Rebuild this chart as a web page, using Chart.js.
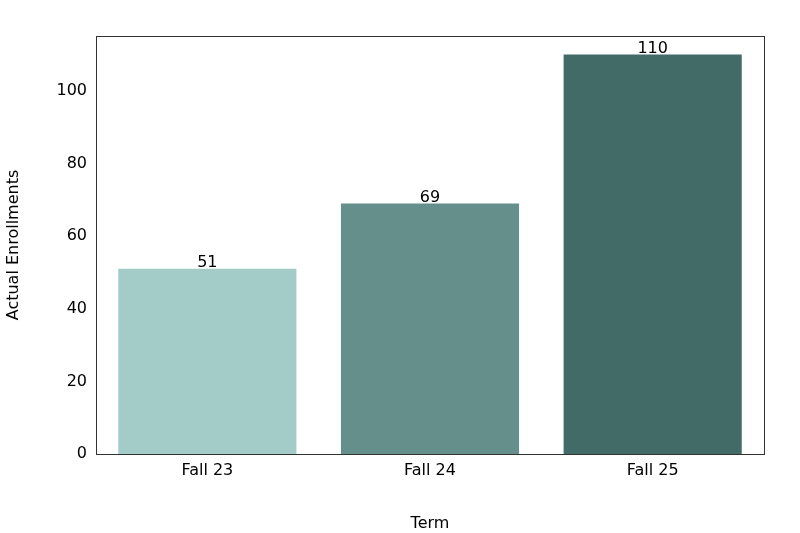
<!DOCTYPE html>
<html><head><meta charset="utf-8">
<script src="https://cdn.jsdelivr.net/npm/chart.js@4"></script>
<style>html,body{margin:0;padding:0;background:#fff}#w{width:800px;height:533px}</style>
</head><body><div id="w"><canvas id="c" width="800" height="533"></canvas></div>
<script>
const categories = ["Fall 23", "Fall 24", "Fall 25"];
const enrollments = [51, 69, 110];
const barColors = ["#a3cbc7", "#648f8b", "#426a66"];
const yTicks = [0, 20, 40, 60, 80, 100];

const frame = {
  id: 'frame',
  afterDraw(chart) {
    const {ctx, chartArea: a} = chart;
    ctx.save();
    ctx.strokeStyle = '#333'; ctx.lineWidth = 1;
    ctx.strokeRect(a.left + 0.5, a.top + 0.5, a.right - a.left, a.bottom - a.top);
    const meta = chart.getDatasetMeta(0);
    ctx.fillStyle = '#000'; ctx.font = '16px "DejaVu Sans"';
    ctx.textAlign = 'center'; ctx.textBaseline = 'bottom';
    meta.data.forEach((b, i) => ctx.fillText(String(enrollments[i]), b.x, b.y + 2));
    ctx.restore();
  }
};

new Chart(document.getElementById('c'), {
  type: 'bar',
  data: { labels: categories, datasets: [{ data: enrollments, backgroundColor: barColors,
    borderColor: barColors.map(c => c), borderWidth: 0, categoryPercentage: 0.8, barPercentage: 1 }] },
  options: {
    responsive: false, animation: false,
    layout: { padding: { top: 36, right: 36, left: 0, bottom: 0 } },
    plugins: { legend: { display: false }, tooltip: { enabled: false } },
    scales: {
      x: {
        afterFit(s) { s.height = 79; },
        grid: { display: false, drawTicks: true, tickLength: 5 },
        border: { color: '#333' },
        ticks: { color: '#000', font: { size: 16, family: 'DejaVu Sans' }, padding: 2 },
        title: { display: true, text: 'Term', color: '#000', font: { size: 16, family: 'DejaVu Sans' }, padding: 0 }
      },
      y: {
        min: 0, max: 115.1,
        afterFit(s) { s.width = 96; },
        afterBuildTicks(s) { s.ticks = yTicks.map(v => ({ value: v })); },
        grid: { display: false, drawTicks: true, tickLength: 5 },
        border: { color: '#333' },
        ticks: { color: '#000', font: { size: 16, family: 'DejaVu Sans' }, padding: 4 },
        title: { display: true, text: 'Actual Enrollments', color: '#000', font: { size: 16, family: 'DejaVu Sans' }, padding: 4 }
      }
    }
  },
  plugins: [frame]
});
</script></body></html>
